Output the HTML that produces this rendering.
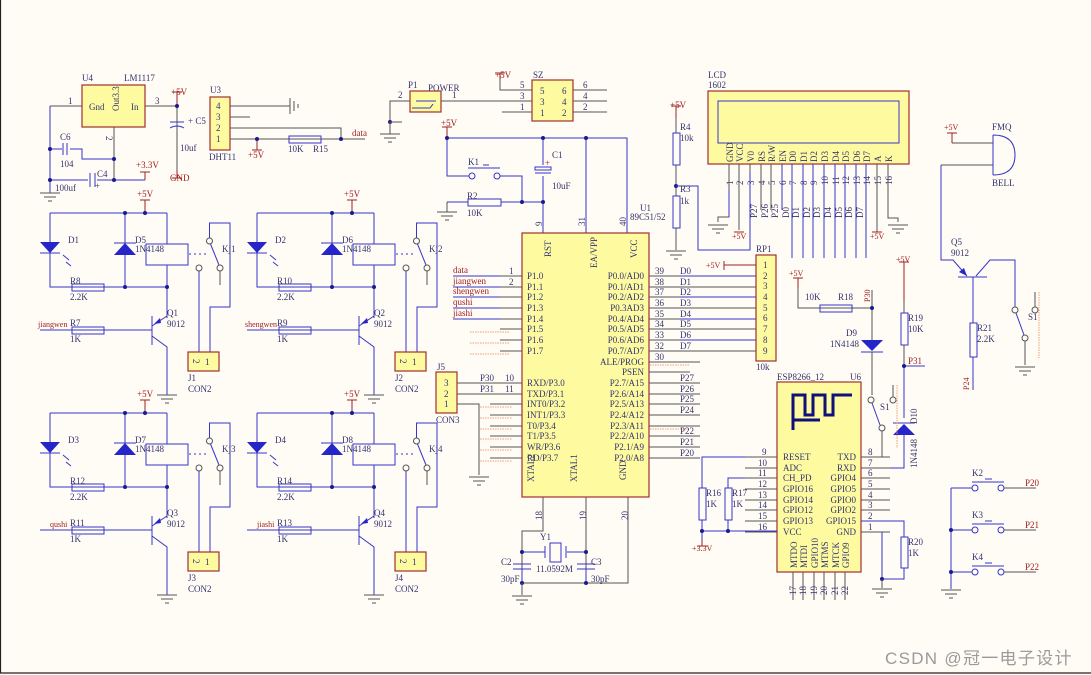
<!DOCTYPE html>
<html><head><meta charset="utf-8"><style>
html,body{margin:0;padding:0;background:#fffbf5;}
svg{display:block;}
text{font-family:"Liberation Serif",serif;font-size:9px;fill:#33336e;}
.r{fill:#a02020;}
.s{font-size:8px;}
.b{stroke:#3636c8;stroke-width:1;fill:none;}
.k{stroke:#555;stroke-width:1;fill:none;}
.rd{stroke:#a02020;stroke-width:1;fill:none;}
.cp{fill:#fdfaa0;stroke:#a03030;stroke-width:1.2;}
.bl{fill:#2626c8;}
.dt{fill:#1a1a90;}
.or{stroke:#f0a070;stroke-width:1;stroke-dasharray:1.5 1;fill:none;}
</style></head><body>
<svg width="1091" height="675" viewBox="0 0 1091 675" xmlns="http://www.w3.org/2000/svg">
<defs>
<g id="gnd"><path d="M-10 0H10M-6 4H6M-2 8H2" stroke="#555" stroke-width="1"/></g>
<g id="relay">
  <path class="b" d="M50 213H167M50 213V287H167M125 213V287M167 213V244M167 265V287M167 287V318"/>
  <path class="rd" d="M145 213V200M140 200H150"/>
  <circle class="dt" cx="125" cy="213" r="2"/><circle class="dt" cx="145" cy="213" r="2"/>
  <circle class="dt" cx="125" cy="287" r="2"/><circle class="dt" cx="167" cy="287" r="2"/>
  <polygon class="bl" points="40,242 60,242 50,253"/><path class="b" d="M40 253H60" stroke-width="1.5"/>
  <path class="b" d="M63 255l6 5M66 262l5 4"/>
  <polygon class="bl" points="114,255 136,255 125,243"/><path class="b" d="M114 243H136" stroke-width="1.5"/>
  <rect class="b" x="146" y="244" width="42" height="21"/>
  <rect class="b" x="72" y="284" width="32" height="7"/>
  <path class="b" d="M40 330H152M152 316V345" />
  <path class="b" d="M152 316V345" stroke-width="2.5"/>
  <rect class="b" x="72" y="327" width="32" height="7"/>
  <path class="b" d="M152 326L167 316M152 336L167 347V395"/>
  <polygon class="bl" points="154,324 160,318 161,323"/>
  <use href="#gnd" x="167" y="395"/>
  <path class="b" d="M189 254H207" stroke-dasharray="2 3"/>
  <circle cx="209.5" cy="241" r="3" fill="#fffbf5" stroke="#555"/>
  <circle cx="199" cy="268" r="3" fill="#fffbf5" stroke="#555"/>
  <circle cx="220" cy="268" r="3" fill="#fffbf5" stroke="#555"/>
  <path class="b" d="M210.5 244L219 265"/>
  <path class="b" d="M209.5 238V223H230V307H210V352M199 271V352"/>
  <path class="k" d="M220 271V285"/>
  <rect class="cp" x="188" y="352" width="31" height="19"/>
</g>
</defs>
<rect x="0" y="0" width="1091" height="675" fill="#fffbf5"/>
<path d="M0.5 0V673H1091" stroke="#222" stroke-width="1.2" fill="none"/>

<!-- Relays -->
<g><use href="#relay"/>
<text x="193" y="365" transform="rotate(90 196 362)">2</text><text x="205" y="365">1</text>
<text class="r" x="137" y="197">+5V</text><text x="68" y="243">D1</text><text x="135" y="243">D5</text><text x="135" y="252">1N4148</text><text x="222" y="252">Kj1</text>
<text x="70" y="284">R8</text><text x="70" y="300">2.2K</text><text x="70" y="326">R7</text><text x="70" y="342">1K</text><text class="r s" x="38" y="327">jiangwen</text>
<text x="167" y="316">Q1</text><text x="167" y="327">9012</text><text x="188" y="381">J1</text><text x="188" y="392">CON2</text></g>
<g transform="translate(207,0)"><use href="#relay"/>
<text x="193" y="365" transform="rotate(90 196 362)">2</text><text x="205" y="365">1</text>
<text class="r" x="137" y="197">+5V</text><text x="68" y="243">D2</text><text x="135" y="243">D6</text><text x="135" y="252">1N4148</text><text x="222" y="252">Kj2</text>
<text x="70" y="284">R10</text><text x="70" y="300">2.2K</text><text x="70" y="326">R9</text><text x="70" y="342">1K</text><text class="r s" x="38" y="327">shengwen</text>
<text x="167" y="316">Q2</text><text x="167" y="327">9012</text><text x="188" y="381">J2</text><text x="188" y="392">CON2</text></g>
<g transform="translate(0,200)"><use href="#relay"/>
<text x="193" y="365" transform="rotate(90 196 362)">2</text><text x="205" y="365">1</text>
<text class="r" x="137" y="197">+5V</text><text x="68" y="243">D3</text><text x="135" y="243">D7</text><text x="135" y="252">1N4148</text><text x="222" y="252">Kj3</text>
<text x="70" y="284">R12</text><text x="70" y="300">2.2K</text><text x="70" y="326">R11</text><text x="70" y="342">1K</text><text class="r s" x="50" y="327">qushi</text>
<text x="167" y="316">Q3</text><text x="167" y="327">9012</text><text x="188" y="381">J3</text><text x="188" y="392">CON2</text></g>
<g transform="translate(207,200)"><use href="#relay"/>
<text x="193" y="365" transform="rotate(90 196 362)">2</text><text x="205" y="365">1</text>
<text class="r" x="137" y="197">+5V</text><text x="68" y="243">D4</text><text x="135" y="243">D8</text><text x="135" y="252">1N4148</text><text x="222" y="252">Kj4</text>
<text x="70" y="284">R14</text><text x="70" y="300">2.2K</text><text x="70" y="326">R13</text><text x="70" y="342">1K</text><text class="r s" x="50" y="327">jiashi</text>
<text x="167" y="316">Q4</text><text x="167" y="327">9012</text><text x="188" y="381">J4</text><text x="188" y="392">CON2</text></g>

<!-- U4 LM1117 -->
<rect class="cp" x="82" y="85" width="63" height="42"/>
<text x="82" y="81">U4</text><text x="124" y="81">LM1117</text>
<text x="89" y="110">Gnd</text><text x="131" y="110">In</text>
<text x="108" y="112" transform="rotate(-90 113 106)">Out3.3</text>
<path class="k" d="M50 106H82M145 106H177V170M114 127V180"/>
<text x="68" y="104">1</text><text x="155" y="104">3</text><text x="106" y="142" transform="rotate(90 109 139)">2</text>
<path class="b" d="M50 106V193M50 149H62M70 149H82V159H114M50 180H88M97 180H145"/>
<path class="b" d="M63 143V155M67 143V155M90 173V187M95 173V187" stroke-width="1.5"/>
<path class="b" d="M170 122H184M170 128Q177 124 184 128"/>
<path class="rd" d="M177 106V92M172 92H182M145 180V172M140 172H150M177 170V178M172 178H182"/>
<circle class="dt" cx="177" cy="106" r="2"/><circle class="dt" cx="50" cy="149" r="2"/><circle class="dt" cx="50" cy="180" r="2"/><circle class="dt" cx="114" cy="159" r="2"/><circle class="dt" cx="114" cy="180" r="2"/>
<use href="#gnd" x="50" y="193"/>
<text class="r" x="171" y="95">+5V</text><text x="188" y="124">+ C5</text><text x="180" y="151">10uf</text><text class="r" x="170" y="181">GND</text>
<text x="60" y="140">C6</text><text x="60" y="167">104</text><text x="97" y="177">C4</text><text x="95" y="189">+</text><text x="55" y="191">100uf</text><text class="r" x="136" y="168">+3.3V</text>

<!-- DHT11 -->
<rect class="cp" x="210" y="97" width="20" height="53"/>
<text x="210" y="93">U3</text><text x="209" y="160">DHT11</text>
<text x="216" y="109">4</text><text x="216" y="120">3</text><text x="216" y="131">2</text><text x="216" y="142">1</text>
<path class="k" d="M230 106H290M230 117H250M230 128H341V139M230 139H365"/>
<path d="M290 98V114M294 101V111M298 104V108" stroke="#555"/>
<rect class="b" x="289" y="136" width="32" height="7"/>
<path class="rd" d="M257 139V150M252 150H262"/>
<circle class="dt" cx="257" cy="139" r="2"/><circle class="dt" cx="341" cy="139" r="2"/>
<text class="r" x="248" y="158">+5V</text><text x="288" y="152">10K</text><text x="313" y="152">R15</text><text class="r" x="352" y="136">data</text>

<!-- POWER / SZ -->
<rect class="cp" x="410" y="91" width="31" height="21"/>
<path class="b" d="M416 101H436" stroke-width="2.5"/><path class="b" d="M412 108H430L433 104"/>
<text x="408" y="88">P1</text><text x="428" y="91">POWER</text><text x="398" y="98">2</text><text x="452" y="98">1</text>
<path class="k" d="M390 122V101H410M441 101H532"/>
<circle class="dt" cx="390" cy="122" r="2"/><use href="#gnd" x="390" y="134"/><path class="k" d="M390 122H402M390 122V134"/>
<rect class="cp" x="532" y="80" width="41" height="41"/>
<text x="533" y="78">SZ</text>
<text x="540" y="94">5</text><text x="540" y="105">3</text><text x="540" y="116">1</text>
<text x="562" y="94">6</text><text x="562" y="105">4</text><text x="562" y="116">2</text>
<path class="k" d="M500 80V90H532M502 112H532M573 90H607M573 101H607M573 112H607"/>
<path class="rd" d="M500 80V73M495 73H505"/>
<text class="r" x="495" y="78">+5V</text>
<text x="520" y="88">5</text><text x="520" y="99">3</text><text x="520" y="110">1</text>
<text x="583" y="88">6</text><text x="583" y="99">4</text><text x="583" y="110">2</text>

<!-- reset circuit -->
<path class="b" d="M447 138H627V233M447 138V176H469M500 176H522V202M447 202H468M501 202H543M543 138V165M543 176V233M586 138V233"/>
<path class="rd" d="M447 138V127M442 127H452"/><text class="r" x="441" y="126">+5V</text>
<path class="k" d="M447 202V212"/><use href="#gnd" x="447" y="212"/>
<rect class="b" x="468" y="199" width="33" height="7"/>
<path class="b" d="M468 168H500M483 165H489" stroke-width="2.5"/>
<circle cx="472" cy="176" r="3" fill="#fffbf5" stroke="#3636c8"/><circle cx="497" cy="176" r="3" fill="#fffbf5" stroke="#3636c8"/>
<rect class="b" x="535" y="167" width="16" height="3" stroke-width="1.5"/><path class="b" d="M535 173H551" stroke-width="1.5"/>
<circle class="dt" cx="447" cy="138" r="2"/><circle class="dt" cx="543" cy="138" r="2"/><circle class="dt" cx="586" cy="138" r="2"/><circle class="dt" cx="522" cy="202" r="2"/><circle class="dt" cx="543" cy="202" r="2"/>
<text x="468" y="165">K1</text><text x="467" y="199">R2</text><text x="467" y="216">10K</text><text x="552" y="158">C1</text><text x="545" y="166" class="r">+</text><text x="552" y="189">10uF</text>
<text x="534" y="226" transform="rotate(-90 538 222)">9</text><text x="577" y="226" transform="rotate(-90 581 222)">31</text><text x="618" y="226" transform="rotate(-90 622 222)">40</text>
<text x="640" y="211">U1</text><text x="630" y="220">89C51/52</text>

<!-- R4/R3 -->
<path class="rd" d="M676 118V106M671 106H681"/><text class="r" x="670" y="108">+5V</text>
<path class="k" d="M676 118V133M676 165V196M676 228V250"/>
<rect class="b" x="673" y="133" width="7" height="32"/><rect class="b" x="673" y="196" width="7" height="32"/>
<circle class="dt" cx="676" cy="186" r="2"/>
<path class="b" d="M676 186H698V250H750V165"/>
<use href="#gnd" x="676" y="251"/>
<text x="680" y="130">R4</text><text x="680" y="141">10k</text><text x="680" y="192">R3</text><text x="680" y="204">1k</text>

<!-- MCU -->
<rect class="cp" x="522" y="233" width="127" height="264"/>
<text x="536" y="258" transform="rotate(-90 543 250)">RST</text>
<text x="575" y="262" transform="rotate(-90 589 254)">EA/VPP</text>
<text x="621" y="258" transform="rotate(-90 629 250)">VCC</text>
<text x="518" y="478" transform="rotate(-90 528 472)">XTAL2</text>
<text x="561" y="478" transform="rotate(-90 571 472)">XTAL1</text>
<text x="612" y="478" transform="rotate(-90 620 472)">GND</text>
<g>
<path class="k" d="M500 276H522M500 287H522M500 297H522M500 308H522M500 319H522M500 329H522M500 340H522M500 351H522M480 383H522M480 394H522M490 404H522M490 415H522M490 426H522M490 436H522M490 447H522M490 458H522"/>
<path class="b" d="M453 276H500M453 287H500M453 297H500M453 308H500M453 319H500"/>
<path class="or" d="M470 332H510M470 343H510M470 354H510M480 407H512M480 418H512M480 429H512M480 439H512M480 450H512M480 461H512"/>
<path class="k" d="M649 276H756M649 287H756M649 297H756M649 308H756M649 319H756M649 329H756M649 340H756M649 351H756M649 362H700M649 372H690M649 383H700M649 394H700M649 404H700M649 415H700M649 426H700M649 436H700M649 447H700M649 458H700"/>
<path class="b" d="M680 276H756M680 297H756M680 319H756M680 340H756"/>
<path class="or" d="M650 365H690M650 429H690"/>
</g>
<g class="s">
<text class="r" x="453" y="273">data</text><text class="r" x="453" y="284">jiangwen</text><text class="r" x="453" y="294">shengwen</text><text class="r" x="453" y="305">qushi</text><text class="r" x="453" y="316">jiashi</text>
</g>
<text x="527" y="279">P1.0</text><text x="527" y="290">P1.1</text><text x="527" y="300">P1.2</text><text x="527" y="311">P1.3</text><text x="527" y="322">P1.4</text><text x="527" y="332">P1.5</text><text x="527" y="343">P1.6</text><text x="527" y="354">P1.7</text>
<text x="527" y="386">RXD/P3.0</text><text x="527" y="397">TXD/P3.1</text><text x="527" y="407">INT0/P3.2</text><text x="527" y="418">INT1/P3.3</text><text x="527" y="429">T0/P3.4</text><text x="527" y="439">T1/P3.5</text><text x="527" y="450">WR/P3.6</text><text x="527" y="461">RD/P3.7</text>
<g text-anchor="end">
<text x="644" y="279">P0.0/AD0</text><text x="644" y="290">P0.1/AD1</text><text x="644" y="300">P0.2/AD2</text><text x="644" y="311">P0.3AD3</text><text x="644" y="322">P0.4/AD4</text><text x="644" y="332">P0.5/AD5</text><text x="644" y="343">P0.6/AD6</text><text x="644" y="354">P0.7/AD7</text><text x="644" y="365">ALE/PROG</text><text x="644" y="375">PSEN</text>
<text x="644" y="386">P2.7/A15</text><text x="644" y="397">P2.6/A14</text><text x="644" y="407">P2.5/A13</text><text x="644" y="418">P2.4/A12</text><text x="644" y="429">P2.3/A11</text><text x="644" y="439">P2.2/A10</text><text x="644" y="450">P2.1/A9</text><text x="644" y="461">P2.0/A8</text>
</g>
<g class="s"><text x="509" y="274">1</text><text x="509" y="285">2</text><text x="505" y="381">10</text><text x="505" y="392">11</text>
<text x="655" y="274">39</text><text x="655" y="285">38</text><text x="655" y="295">37</text><text x="655" y="306">36</text><text x="655" y="317">35</text><text x="655" y="327">34</text><text x="655" y="338">33</text><text x="655" y="349">32</text><text x="655" y="360">30</text></g>
<g class="r"><text x="680" y="274">D0</text><text x="680" y="285">D1</text><text x="680" y="295">D2</text><text x="680" y="306">D3</text><text x="680" y="317">D4</text><text x="680" y="327">D5</text><text x="680" y="338">D6</text><text x="680" y="349">D7</text>
<text x="680" y="381">P27</text><text x="680" y="392">P26</text><text x="680" y="402">P25</text><text x="680" y="413">P24</text><text x="680" y="434">P22</text><text x="680" y="445">P21</text><text x="680" y="456">P20</text>
<text x="480" y="381">P30</text><text x="480" y="392">P31</text></g>

<!-- J5 -->
<rect class="cp" x="436" y="372" width="21" height="41"/>
<text x="437" y="370">J5</text><text x="436" y="423">CON3</text>
<text x="444" y="386">3</text><text x="444" y="397">2</text><text x="444" y="407">1</text>
<path class="k" d="M457 383H480M457 394H480M457 404H479V475"/><use href="#gnd" x="479" y="477"/>

<!-- crystal -->
<path class="k" d="M543 497V531H522V583H628V497M586 497V583"/>
<path class="b" d="M522 552H545M567 552H586M522 567V583M586 567V583M513 564H531M513 569H531M577 564H595M577 569H595M545 546V558M566 546V558"/>
<rect class="b" x="550" y="543" width="11" height="19"/>
<circle class="dt" cx="522" cy="552" r="2"/><circle class="dt" cx="586" cy="552" r="2"/><circle class="dt" cx="522" cy="583" r="2"/><circle class="dt" cx="586" cy="583" r="2"/>
<path class="k" d="M522 583V595"/><use href="#gnd" x="522" y="596"/>
<text x="540" y="540">Y1</text><text x="536" y="572">11.0592M</text><text x="501" y="565">C2</text><text x="591" y="565">C3</text><text x="501" y="582">30pF</text><text x="591" y="582">30pF</text>
<text x="530" y="516" transform="rotate(-90 538 512)">18</text><text x="574" y="516" transform="rotate(-90 582 512)">19</text><text x="616" y="516" transform="rotate(-90 624 512)">20</text>

<!-- RP1 -->
<rect class="cp" x="756" y="255" width="20" height="106"/>
<text x="756" y="252">RP1</text><text x="756" y="370">10k</text>
<g><text x="763" y="268">1</text><text x="763" y="279">2</text><text x="763" y="289">3</text><text x="763" y="300">4</text><text x="763" y="311">5</text><text x="763" y="321">6</text><text x="763" y="332">7</text><text x="763" y="343">8</text><text x="763" y="354">9</text></g>
<path class="rd" d="M724 261V270M724 265H756"/><text class="r s" x="706" y="268">+5V</text>

<!-- LCD -->
<rect class="cp" x="708" y="91" width="201" height="73"/>
<rect x="718" y="101" width="181" height="42" fill="none" stroke="#3636c8"/>
<text x="708" y="78">LCD</text><text x="708" y="88">1602</text>
<g font-size="9">
<text transform="translate(733 162) rotate(-90)">GND</text><text transform="translate(743 162) rotate(-90)">VCC</text><text transform="translate(754 162) rotate(-90)">V0</text><text transform="translate(765 162) rotate(-90)">RS</text><text transform="translate(775 162) rotate(-90)">R/W</text><text transform="translate(786 162) rotate(-90)">EN</text><text transform="translate(796 162) rotate(-90)">D0</text><text transform="translate(807 162) rotate(-90)">D1</text><text transform="translate(817 162) rotate(-90)">D2</text><text transform="translate(828 162) rotate(-90)">D3</text><text transform="translate(839 162) rotate(-90)">D4</text><text transform="translate(849 162) rotate(-90)">D5</text><text transform="translate(860 162) rotate(-90)">D6</text><text transform="translate(870 162) rotate(-90)">D7</text><text transform="translate(881 162) rotate(-90)">A</text><text transform="translate(892 162) rotate(-90)">K</text>
</g>
<g class="s"><text transform="translate(733 185) rotate(-90)">1</text><text transform="translate(743 185) rotate(-90)">2</text><text transform="translate(754 185) rotate(-90)">3</text><text transform="translate(765 185) rotate(-90)">4</text><text transform="translate(775 185) rotate(-90)">5</text><text transform="translate(786 185) rotate(-90)">6</text><text transform="translate(796 185) rotate(-90)">7</text><text transform="translate(807 185) rotate(-90)">8</text><text transform="translate(817 185) rotate(-90)">9</text><text transform="translate(828 185) rotate(-90)">10</text><text transform="translate(839 185) rotate(-90)">11</text><text transform="translate(849 185) rotate(-90)">12</text><text transform="translate(860 185) rotate(-90)">13</text><text transform="translate(870 185) rotate(-90)">14</text><text transform="translate(881 185) rotate(-90)">15</text><text transform="translate(892 185) rotate(-90)">16</text></g>
<g class="r s"><text transform="translate(757 218) rotate(-90)">P27</text><text transform="translate(768 218) rotate(-90)">P26</text><text transform="translate(778 218) rotate(-90)">P25</text><text transform="translate(789 218) rotate(-90)">D0</text><text transform="translate(799 218) rotate(-90)">D1</text><text transform="translate(810 218) rotate(-90)">D2</text><text transform="translate(820 218) rotate(-90)">D3</text><text transform="translate(831 218) rotate(-90)">D4</text><text transform="translate(842 218) rotate(-90)">D5</text><text transform="translate(852 218) rotate(-90)">D6</text><text transform="translate(863 218) rotate(-90)">D7</text></g>
<path class="k" d="M729 164V217H718V222M739 164V230M750 164V172M761 164V210M771 164V210M877 164V232M888 164V218H898V222"/>
<path class="b" d="M729 190V217M750 172V250M782 164V210M792 164V258M803 164V258M813 164V258M824 164V258M835 164V258M845 164V258M856 164V258M866 164V258"/>
<use href="#gnd" x="718" y="225"/><use href="#gnd" x="898" y="225"/>
<path class="rd" d="M734 232H744M872 232H882"/><text class="r s" x="732" y="239">+5V</text><text class="r s" x="870" y="239">+5V</text>

<!-- Bell & Q5 -->
<path class="rd" d="M952 133V143M947 133H957"/><text class="r s" x="944" y="130">+5V</text>
<path class="k" d="M952 143H993M941 165H993"/>
<path class="b" d="M941 165V260H953L967 276M958 277H987M976 276L990 260H1015V307M973 277V323M973 357V390"/>
<path class="b" d="M958 277H987" stroke-width="3"/>
<polygon class="bl" points="967,276 959,272 964,268"/>
<path d="M993 135V175M993 135Q1015 135 1015 155Q1015 175 993 175" stroke="#3636c8" fill="none"/>
<rect class="b" x="970" y="323" width="7" height="34"/>
<circle cx="1015" cy="310" r="3" fill="#fffbf5" stroke="#555"/><circle cx="1025" cy="338" r="3" fill="#fffbf5" stroke="#555"/><circle cx="1035" cy="310" r="3" fill="#fffbf5" stroke="#555"/>
<path class="b" d="M1016 313L1024 335"/><path class="k" d="M1025 341V365M1035 307V292"/>
<path class="or" d="M1039 292V358"/>
<use href="#gnd" x="1025" y="367"/>
<text x="992" y="130">FMQ</text><text x="992" y="186">BELL</text><text x="951" y="245">Q5</text><text x="951" y="256">9012</text><text x="977" y="331">R21</text><text x="977" y="342">2.2K</text><text x="1028" y="320">S1</text>
<text class="r s" transform="translate(969 390) rotate(-90)">P24</text>

<!-- D9/R18/R19/D10/S1 -->
<path class="rd" d="M798 288V278M793 278H803"/><text class="r s" x="789" y="276">+5V</text>
<path class="k" d="M798 288V308H872"/>
<rect class="b" x="820" y="305" width="32" height="7"/>
<path class="k" d="M872 290V340M872 352V395"/>
<polygon class="bl" points="861,340 883,340 872,351"/><path class="b" d="M861 352H883" stroke-width="1.5"/>
<circle class="dt" cx="872" cy="308" r="2"/>
<text x="805" y="300">10K</text><text x="838" y="300">R18</text><text class="r s" transform="translate(870 302) rotate(-90)">P30</text>
<text x="846" y="336">D9</text><text x="830" y="347">1N4148</text>
<path class="rd" d="M904 262V300M899 262H909"/><text class="r s" x="896" y="262">+5V</text>
<rect class="b" x="901" y="313" width="7" height="32"/>
<path class="k" d="M904 300V313M904 345V366"/>
<path class="b" d="M904 366V418M904 434V468H861M904 366H925"/>
<circle class="dt" cx="904" cy="366" r="2"/>
<polygon class="bl" points="893,435 915,435 904,424"/><path class="b" d="M893 423H915" stroke-width="1.5"/>
<text x="908" y="321">R19</text><text x="908" y="332">10K</text><text class="r" x="908" y="364">P31</text>
<text transform="translate(917 424) rotate(-90)">D10</text><text transform="translate(917 468) rotate(-90)">1N4148</text>
<circle cx="871" cy="400" r="3" fill="#fffbf5" stroke="#555"/><circle cx="882" cy="428" r="3" fill="#fffbf5" stroke="#555"/><circle cx="893" cy="400" r="3" fill="#fffbf5" stroke="#555"/>
<path class="b" d="M872 403L880 425"/><path class="k" d="M882 431V457H861M893 397V385"/>
<path class="or" d="M897 385V448"/>
<text x="880" y="410">S1</text>

<!-- ESP8266 -->
<rect class="cp" x="777" y="382" width="84" height="190"/>
<text x="777" y="380">ESP8266_12</text><text x="850" y="380">U6</text>
<path d="M793 430V395H805V415H813V395H825V415H833V395H852M793 420H820" stroke="#10107a" stroke-width="3" fill="none"/>
<path class="k" d="M745 457H777M745 468H777M745 478H777M745 489H777M745 500H777M745 510H777M745 521H777M745 532H777M861 457H890M861 468H890M861 478H890M861 489H890M861 500H890M861 510H890M861 521H890M861 532H890"/>
<path class="k" d="M793 572V600M803 572V600M814 572V600M824 572V600M835 572V600M845 572V600"/>
<g class="s"><text x="762" y="455">9</text><text x="758" y="466">10</text><text x="758" y="476">11</text><text x="758" y="487">12</text><text x="758" y="498">13</text><text x="758" y="508">14</text><text x="758" y="519">15</text><text x="758" y="530">16</text>
<text x="868" y="455">8</text><text x="868" y="466">7</text><text x="868" y="476">6</text><text x="868" y="487">5</text><text x="868" y="498">4</text><text x="868" y="508">3</text><text x="868" y="519">2</text><text x="868" y="530">1</text></g>
<text x="783" y="460">RESET</text><text x="783" y="471">ADC</text><text x="783" y="481">CH_PD</text><text x="783" y="492">GPIO16</text><text x="783" y="503">GPIO14</text><text x="783" y="513">GPIO12</text><text x="783" y="524">GPIO13</text><text x="783" y="535">VCC</text>
<g text-anchor="end"><text x="856" y="460">TXD</text><text x="856" y="471">RXD</text><text x="856" y="481">GPIO4</text><text x="856" y="492">GPIO5</text><text x="856" y="503">GPIO0</text><text x="856" y="513">GPIO2</text><text x="856" y="524">GPIO15</text><text x="856" y="535">GND</text></g>
<text transform="translate(797 568) rotate(-90)">MTDO</text><text transform="translate(807 568) rotate(-90)">MTDI</text><text transform="translate(818 568) rotate(-90)">GPIO10</text><text transform="translate(828 568) rotate(-90)">MTMS</text><text transform="translate(839 568) rotate(-90)">MTCK</text><text transform="translate(849 568) rotate(-90)">GPIO9</text>
<g class="s"><text transform="translate(796 595) rotate(-90)">17</text><text transform="translate(806 595) rotate(-90)">18</text><text transform="translate(817 595) rotate(-90)">19</text><text transform="translate(827 595) rotate(-90)">20</text><text transform="translate(838 595) rotate(-90)">21</text><text transform="translate(848 595) rotate(-90)">22</text></g>
<path class="b" d="M745 457H702V488M702 520V531H777M745 478H728V488M728 520V531M861 521H904V537M904 568V579H882M882 532V579M702 531V540"/>
<rect class="b" x="699" y="488" width="7" height="32"/><rect class="b" x="725" y="488" width="7" height="32"/><rect class="b" x="901" y="537" width="7" height="31"/>
<circle class="dt" cx="702" cy="531" r="2"/><circle class="dt" cx="728" cy="531" r="2"/><circle class="dt" cx="882" cy="579" r="2"/>
<path class="rd" d="M702 540V546M697 546H707"/><text class="r s" x="692" y="551">+3.3V</text>
<path class="k" d="M882 579V588"/><use href="#gnd" x="882" y="589"/>
<text x="706" y="496">R16</text><text x="706" y="507">1K</text><text x="732" y="496">R17</text><text x="732" y="507">1K</text><text x="908" y="545">R20</text><text x="908" y="556">1K</text>

<!-- K2-K4 -->
<path class="b" d="M951 488V589M951 488H972M951 530H972M951 572H972"/>
<circle class="dt" cx="951" cy="530" r="2"/><circle class="dt" cx="951" cy="572" r="2"/>
<use href="#gnd" x="951" y="590"/>
<g>
<path class="b" d="M972 482H1004M985 479H992M972 524H1004M985 521H992M972 566H1004M985 563H992" stroke-width="2.5"/>
<circle cx="975" cy="488" r="3" fill="#fffbf5" stroke="#3636c8"/><circle cx="1001" cy="488" r="3" fill="#fffbf5" stroke="#3636c8"/>
<circle cx="975" cy="530" r="3" fill="#fffbf5" stroke="#3636c8"/><circle cx="1001" cy="530" r="3" fill="#fffbf5" stroke="#3636c8"/>
<circle cx="975" cy="572" r="3" fill="#fffbf5" stroke="#3636c8"/><circle cx="1001" cy="572" r="3" fill="#fffbf5" stroke="#3636c8"/>
<path class="k" d="M1004 488H1036M1004 530H1036M1004 572H1036"/>
</g>
<text x="972" y="476">K2</text><text x="972" y="518">K3</text><text x="972" y="560">K4</text>
<text class="r" x="1025" y="486">P20</text><text class="r" x="1025" y="528">P21</text><text class="r" x="1025" y="570">P22</text>

<text x="885" y="664" style="font-family:'Liberation Sans','Noto Sans CJK SC',sans-serif;font-size:17px;letter-spacing:1.3px;fill:#9a9a9a">CSDN @冠一电子设计</text>
</svg>
</body></html>
